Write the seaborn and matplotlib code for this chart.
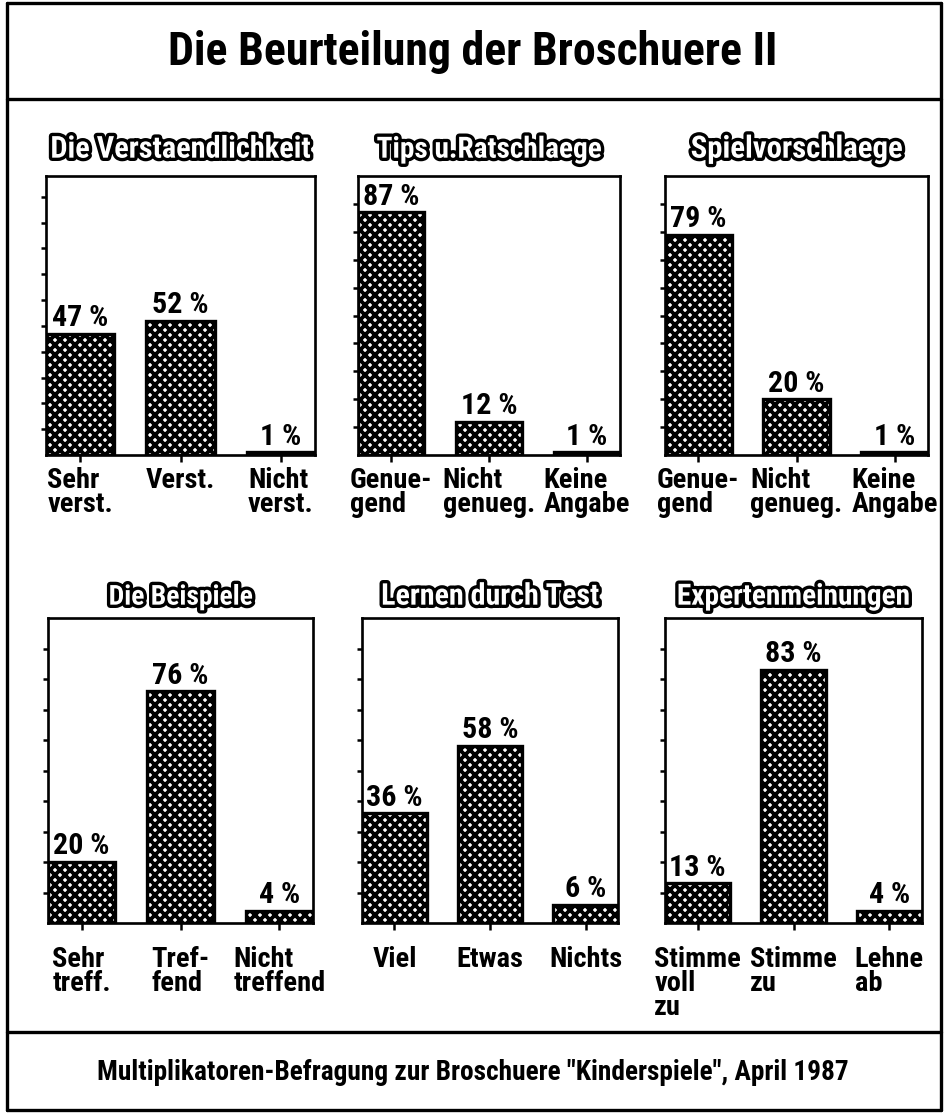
import matplotlib
matplotlib.use("Agg")
import matplotlib.pyplot as plt
import matplotlib.patheffects as pe
from matplotlib import font_manager as fm
from matplotlib.lines import Line2D
import seaborn as sns

# data
titles = ["Die Verstaendlichkeit", "Tips u.Ratschlaege", "Spielvorschlaege",
          "Die Beispiele", "Lernen durch Test", "Expertenmeinungen"]
cats_verst = ["Sehr\nverst.", "Verst.", "Nicht\nverst."]
vals_verst = [47, 52, 1]
cats_tips = ["Genue-\ngend", "Nicht\ngenueg.", "Keine\nAngabe"]
vals_tips = [87, 12, 1]
cats_spiel = ["Genue-\ngend", "Nicht\ngenueg.", "Keine\nAngabe"]
vals_spiel = [79, 20, 1]
cats_beisp = ["Sehr\ntreff.", "Tref-\nfend", "Nicht\ntreffend"]
vals_beisp = [20, 76, 4]
cats_test = ["Viel", "Etwas", "Nichts"]
vals_test = [36, 58, 6]
cats_exp = ["Stimme\nvoll\nzu", "Stimme\nzu", "Lehne\nab"]
vals_exp = [13, 83, 4]
main_title = "Die Beurteilung der Broschuere II"
footer = 'Multiplikatoren-Befragung zur Broschuere "Kinderspiele", April 1987'

sns.set_theme(style="white")

# pick a narrow font if one is there
fonts = fm.fontManager.ttflist
names = {f.name for f in fonts}
stretch = 'normal'
narrow = True
if 'Liberation Sans Narrow' in names:
    family = 'Liberation Sans Narrow'
elif 'Roboto Condensed' in names:
    family = 'Roboto Condensed'
elif any(f.name == 'DejaVu Sans' and f.stretch == 'condensed' for f in fonts):
    family, stretch = 'DejaVu Sans', 'condensed'
else:
    family, narrow = 'Liberation Sans', False

plt.rcParams['font.family'] = [family, 'DejaVu Sans']
plt.rcParams['font.stretch'] = stretch
plt.rcParams['font.weight'] = 'bold'
plt.rcParams['text.color'] = 'black'
plt.rcParams['xtick.color'] = 'black'
plt.rcParams['ytick.color'] = 'black'
plt.rcParams['hatch.linewidth'] = 2.3
plt.rcParams['hatch.color'] = 'black'

W, H = 945, 1113
fig = plt.figure(figsize=(W / 120, H / 120), dpi=120)
fig.patch.set_facecolor('white')

# axes boxes in pixels: left, right, top, bottom
boxes = [(46, 315, 176, 455), (358, 620, 176, 455), (665, 928, 176, 455),
         (48, 313, 618, 923), (362, 618, 618, 923), (665, 922, 618, 923)]
panels = [(cats_verst, vals_verst), (cats_tips, vals_tips), (cats_spiel, vals_spiel),
          (cats_beisp, vals_beisp), (cats_test, vals_test), (cats_exp, vals_exp)]
ymaxes = [108, 100, 100, 100, 100, 100]
title_w = [260, 225, 212, 144, 218, 233]

tick_fs = 17 if narrow else 13.5
val_fs = 18 if narrow else 15

bw = 0.68
fitted = []
for i, ((cats, vals), (l, r, t, b)) in enumerate(zip(panels, boxes)):
    ax = fig.add_axes([l / W, 1 - b / H, (r - l) / W, (b - t) / H])
    sns.barplot(x=cats, y=vals, ax=ax, color='white', edgecolor='black',
                linewidth=2.0, width=bw, hatch='xxxx', saturation=1)
    ax.set_xlim(-bw / 2, 2 + bw / 2)
    ax.set_ylim(0, ymaxes[i])
    ax.set_yticks(range(10, ymaxes[i], 10))
    ax.set_yticklabels([])
    ax.tick_params(axis='y', direction='out', length=3, width=1.5, color='black', left=True)
    ax.tick_params(axis='x', direction='out', length=4, width=1.5, color='black',
                   bottom=True, labelsize=tick_fs, pad=3 if i < 3 else 10)
    for lab in ax.get_xticklabels():
        lab.set_multialignment('left')
        lab.set_linespacing(0.85)
        lab.set_fontweight('bold')
    for s in ax.spines.values():
        s.set_color('black')
        s.set_linewidth(1.6)
    ax.bar_label(ax.containers[0], labels=[f"{v} %" for v in vals],
                 padding=1, fontsize=val_fs, fontweight='bold')
    ttl = ax.set_title(titles[i], fontsize=15, fontweight='bold', color='white',
                       pad=11 if i < 3 else 8,
                       path_effects=[pe.withStroke(linewidth=4, foreground='black')])
    fitted.append((ttl, title_w[i], 19))

t1 = fig.text(0.5, 1 - 52 / H, main_title, ha='center', va='center',
              fontsize=29, fontweight='bold')
t2 = fig.text(0.5, 1 - 1073 / H, footer, ha='center', va='center',
              fontsize=17, fontweight='bold')
fitted += [(t1, 610, 32), (t2, 755, 17)]

# scale the long texts to the widths they have in the chart
renderer = fig.canvas.get_renderer()
for txt, target, cap in fitted:
    w = txt.get_window_extent(renderer).width
    txt.set_fontsize(min(cap, txt.get_fontsize() * target / w))

# frame lines
def hline(y):
    fig.add_artist(Line2D([7 / W, 941 / W], [1 - y / H, 1 - y / H], color='black', lw=2))

def vline(x):
    fig.add_artist(Line2D([x / W, x / W], [1 - 3 / H, 1 - 1110 / H], color='black', lw=2))

for y in [3, 99, 1032, 1110]:
    hline(y)
for x in [7, 941]:
    vline(x)

fig.savefig("out.png", dpi=120, facecolor='white')
